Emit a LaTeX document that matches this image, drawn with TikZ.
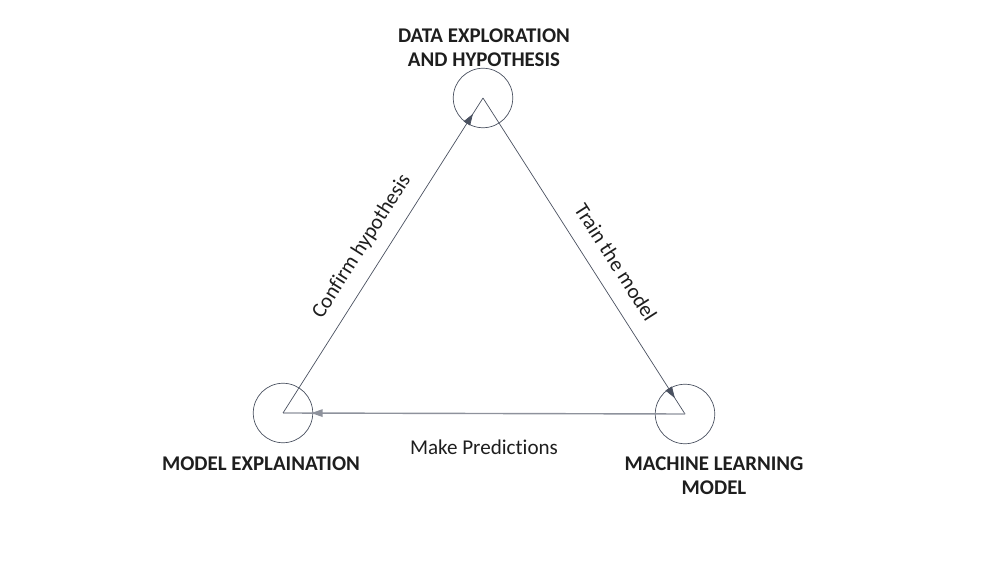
\documentclass[tikz,border=0pt]{standalone}
\usepackage{fontspec}
\setmainfont{Carlito}[Ligatures={NoCommon}]
\usetikzlibrary{arrows.meta,decorations.markings}
\definecolor{edgegray}{HTML}{4A5160}
\definecolor{basegray}{HTML}{8E929C}
\definecolor{textgray}{HTML}{1E1E1E}
\begin{document}
\begin{tikzpicture}[x=0.02cm,y=-0.02cm,
  stage/.style={circle, draw=edgegray, thin, minimum size=1.19cm, inner sep=0pt},
  title/.style={align=center, font=\fontsize{11.9}{13.8}\selectfont\bfseries, text=textgray},
  edgelabel/.style={font=\fontsize{12}{14}\selectfont, text=textgray},
  flow/.style={draw=edgegray, thin, postaction={decorate},
    decoration={markings, mark=at position #1 with {\arrow{Triangle[width=0.15cm,length=0.23cm]}}}}]

  \useasboundingbox (0,0) rectangle (1000,563);

  % CIRCLES
  \node [stage] (explore) at (483,98) {};
  \node [stage] (explain) at (283,413) {};
  \node [stage] (train) at (685,414) {};

  % TITLES
  \node [title] (exploretitle) at (484,48) {DATA EXPLORATION\\AND HYPOTHESIS};
  \node [title] (explaintitle) at (261,464) {MODEL EXPLAINATION};
  \node [title] (traintitle) at (714,476) {MACHINE LEARNING\\MODEL};

  % EDGES
  \draw [flow=0.95] (explore.center) -- (train.center)
    node [edgelabel, pos=0.56, sloped, above=0.2cm] (trainlabel) {Train the model};
  \draw [flow=0.93, draw=basegray, line width=0.8pt, color=basegray] (train.center) -- (explain.center)
    node [edgelabel, midway, below=0.4cm] (predictlabel) {Make Predictions};
  \draw [flow=0.95] (explain.center) -- (explore.center)
    node [edgelabel, pos=0.49, sloped, above=0.15cm] (confirmlabel) {Confirm hypothesis};

\end{tikzpicture}
\end{document}
